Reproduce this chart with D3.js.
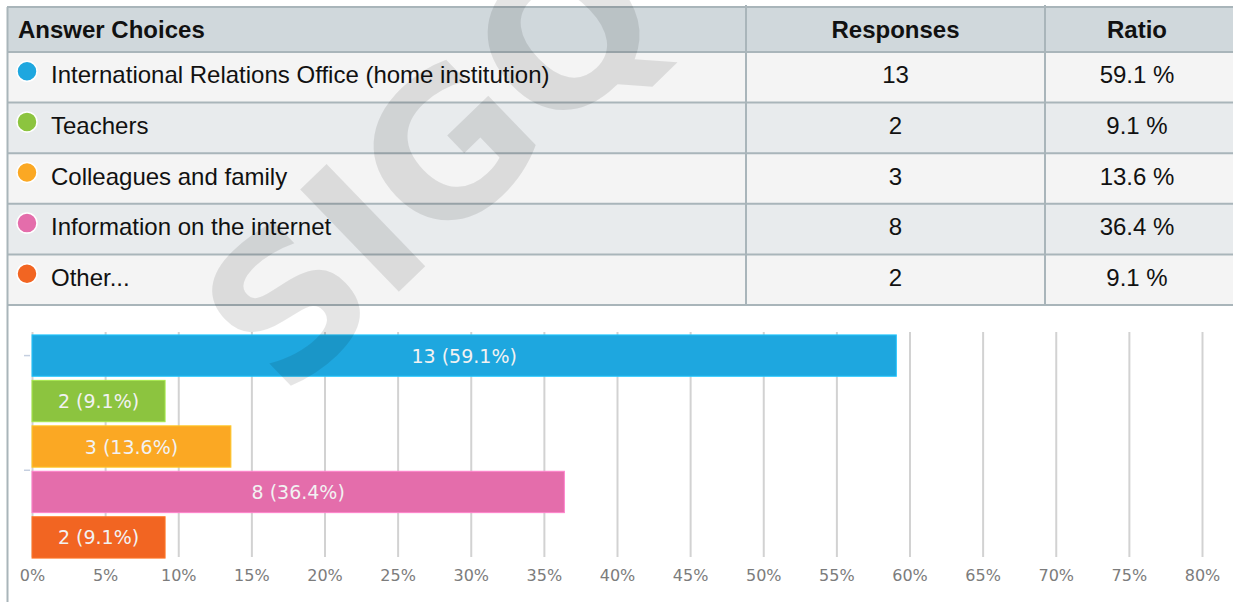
<!DOCTYPE html>
<html>
<head>
<meta charset="utf-8">
<script src="https://cdn.jsdelivr.net/npm/d3@7"></script>
<style>
  body { margin: 0; background: #fff; }
  svg { display: block; }
</style>
</head>
<body>
<div id="chart"></div>
<script>
var categories = [
  "International Relations Office (home institution)",
  "Teachers",
  "Colleagues and family",
  "Information on the internet",
  "Other..."
];
var responses = [13, 2, 3, 8, 2];
var ratios = [59.1, 9.1, 13.6, 36.4, 9.1];
var colors = ["#1ea7df", "#8cc43f", "#fba823", "#e46dab", "#f26522"];
var headers = ["Answer Choices", "Responses", "Ratio"];
var xTicks = [0, 5, 10, 15, 20, 25, 30, 35, 40, 45, 50, 55, 60, 65, 70, 75, 80];

function init(){
    var w = 1233;
    var h = 602;
    var borderColor = "#a9b5ba";
    var idx = d3.range(categories.length);
    var tableFont = "'Liberation Sans', Arial, sans-serif";
    var chartFont = "'DejaVu Sans', sans-serif";

    var svg = d3.select("#chart")
      .append("svg")
      .attr("width", w)
      .attr("height", h);

    // ---- table ----
    var colX = [7, 746, 1045, w];
    var rowScale = d3.scaleBand()
      .domain(idx)
      .range([52, 305]);

    var table = svg.append("g");

    table.append("rect")
      .attr("x", colX[0]).attr("y", 7)
      .attr("width", w - colX[0]).attr("height", 45)
      .attr("fill", "#d0d8dc");

    table.selectAll("rect.row")
      .data(idx)
      .enter()
      .append("rect")
      .attr("class", "row")
      .attr("x", colX[0])
      .attr("y", function(i){ return rowScale(i); })
      .attr("width", w - colX[0])
      .attr("height", rowScale.bandwidth())
      .attr("fill", function(i){ return i % 2 ? "#e8ebed" : "#f4f4f4"; });

    // horizontal borders
    var lineYs = [7, 52].concat(idx.map(function(i){ return rowScale(i) + rowScale.bandwidth(); }));
    table.selectAll("line.h")
      .data(lineYs)
      .enter()
      .append("line")
      .attr("x1", colX[0]).attr("x2", w)
      .attr("y1", function(d){ return d; })
      .attr("y2", function(d){ return d; })
      .attr("stroke", borderColor)
      .attr("stroke-width", 2);

    // vertical borders
    table.selectAll("line.v")
      .data([colX[1], colX[2]])
      .enter()
      .append("line")
      .attr("x1", function(d){ return d; })
      .attr("x2", function(d){ return d; })
      .attr("y1", 5).attr("y2", 305)
      .attr("stroke", borderColor)
      .attr("stroke-width", 2);

    // left border runs down past the chart
    svg.append("line")
      .attr("x1", 7.5).attr("x2", 7.5)
      .attr("y1", 7).attr("y2", h)
      .attr("stroke", borderColor)
      .attr("stroke-width", 2);

    var headX = [18, (colX[1] + colX[2]) / 2, (colX[2] + colX[3]) / 2 - 2];
    table.selectAll("text.head")
      .data(headers)
      .enter()
      .append("text")
      .attr("x", function(d, i){ return headX[i]; })
      .attr("y", 38)
      .attr("text-anchor", function(d, i){ return i === 0 ? "start" : "middle"; })
      .attr("font-family", tableFont)
      .attr("font-size", 24).attr("font-weight", "bold")
      .attr("fill", "#111")
      .text(function(d){ return d; });

    var rows = table.selectAll("g.r")
      .data(idx)
      .enter()
      .append("g")
      .attr("transform", function(i){ return "translate(0," + (rowScale(i) + rowScale.bandwidth() / 2) + ")"; });

    rows.append("circle")
      .attr("cx", 27).attr("cy", -6)
      .attr("r", 10)
      .attr("fill", function(i){ return colors[i]; })
      .attr("stroke", "#fff")
      .attr("stroke-width", 1.5);

    rows.append("text")
      .attr("x", 51).attr("y", 6)
      .attr("font-family", tableFont)
      .attr("font-size", 24)
      .attr("fill", "#111")
      .text(function(i){ return categories[i]; });

    rows.append("text")
      .attr("x", headX[1]).attr("y", 6)
      .attr("text-anchor", "middle")
      .attr("font-family", tableFont)
      .attr("font-size", 24)
      .attr("fill", "#111")
      .text(function(i){ return responses[i]; });

    rows.append("text")
      .attr("x", headX[2]).attr("y", 6)
      .attr("text-anchor", "middle")
      .attr("font-family", tableFont)
      .attr("font-size", 24)
      .attr("fill", "#111")
      .text(function(i){ return ratios[i].toFixed(1) + " %"; });

    // ---- bar chart ----
    var xScale = d3.scaleLinear()
      .domain([0, 80])
      .range([32, 1202]);

    var yScale = d3.scaleBand()
      .domain(idx)
      .range([334, 559])
      .paddingInner(0.09)
      .paddingOuter(0.02);

    var grid = d3.axisTop(xScale)
      .tickValues(xTicks)
      .tickSize(-(557 - 332))
      .tickFormat("");

    svg.append("g")
      .attr("transform", "translate(0,332)")
      .call(grid)
      .call(function(g){
        g.select(".domain").remove();
        g.selectAll("line").attr("stroke", "#d2d2d2").attr("stroke-width", 2);
      });

    svg.selectAll("rect.bar")
      .data(idx)
      .enter()
      .append("rect")
      .attr("class", "bar")
      .attr("x", xScale(0))
      .attr("y", function(i){ return yScale(i); })
      .attr("width", function(i){ return xScale(ratios[i]) - xScale(0); })
      .attr("height", yScale.bandwidth())
      .attr("fill", function(i){ return colors[i]; })
      .attr("stroke", function(i){ return d3.color(colors[i]).brighter(0.5); })
      .attr("stroke-width", 1);

    svg.selectAll("text.barlabel")
      .data(idx)
      .enter()
      .append("text")
      .attr("class", "barlabel")
      .attr("x", function(i){ return (xScale(0) + xScale(ratios[i])) / 2; })
      .attr("y", function(i){ return yScale(i) + yScale.bandwidth() / 2 + 7; })
      .attr("text-anchor", "middle")
      .attr("font-family", chartFont)
      .attr("font-size", 19)
      .attr("fill", "#f2f2f2")
      .text(function(i){ return responses[i] + " (" + ratios[i] + "%)"; });

    var xAxis = d3.axisBottom(xScale)
      .tickValues(xTicks)
      .tickSize(0)
      .tickPadding(0)
      .tickFormat(function(d){ return d + "%"; });

    svg.append("g")
      .attr("transform", "translate(0,569.5)")
      .call(xAxis)
      .call(function(g){
        g.select(".domain").remove();
        g.selectAll("text")
          .attr("font-family", chartFont)
          .attr("font-size", 16)
          .attr("fill", "#7c7c7c");
      });

    // small y ticks on the left
    svg.selectAll("line.ytick")
      .data([0, 3])
      .enter()
      .append("line")
      .attr("x1", 24).attr("x2", 30)
      .attr("y1", function(i){ return i === 0 ? yScale(i) + yScale.bandwidth() / 2 : yScale(i) - 1; })
      .attr("y2", function(i){ return i === 0 ? yScale(i) + yScale.bandwidth() / 2 : yScale(i) - 1; })
      .attr("stroke", "#c5cfe0")
      .attr("stroke-width", 1.5);

    // watermark on top
    svg.append("text")
      .attr("transform", "translate(432,166) rotate(-44)")
      .attr("text-anchor", "middle")
      .attr("dominant-baseline", "central")
      .attr("font-family", chartFont)
      .attr("font-weight", "bold")
      .attr("font-size", 195)
      .attr("fill", "#000")
      .attr("fill-opacity", 0.1)
      .text("SIGQ");
}

window.onload = init;
</script>
</body>
</html>
